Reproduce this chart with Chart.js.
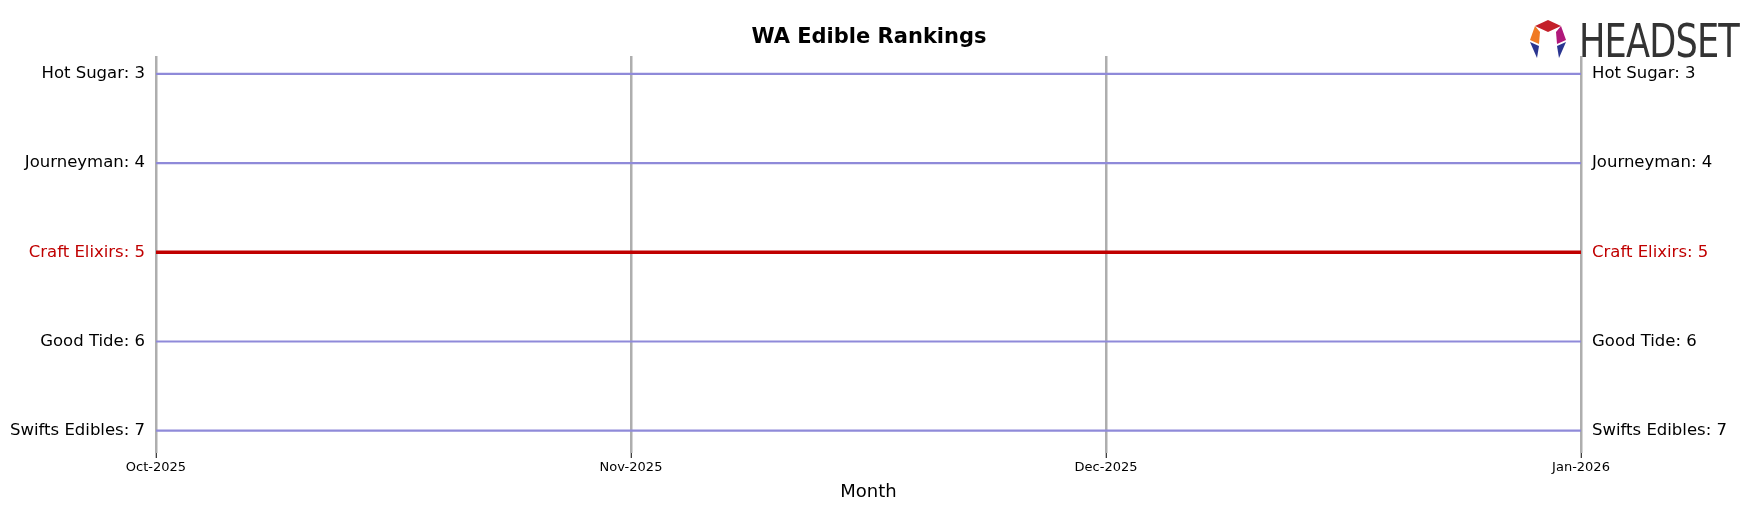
<!DOCTYPE html>
<html><head><meta charset="utf-8">
<script src="https://cdn.jsdelivr.net/npm/chart.js@4/dist/chart.umd.min.js"></script>
<style>
body{margin:0;background:#fff;font-family:"DejaVu Sans",sans-serif}
#wrap{position:relative;width:1764px;height:507px}
#title{position:absolute;top:24px;left:0;width:1738px;text-align:center;font-weight:bold;font-size:21px;color:#000}
#logo{position:absolute;top:14px;left:1525px;display:flex;align-items:center}
#logo span{font-family:"DejaVu Sans Condensed","DejaVu Sans",sans-serif;font-size:46px;color:#333;letter-spacing:-1px;margin-left:8px;transform:scaleX(0.85);transform-origin:left}
</style></head>
<body><div id="wrap">
<canvas id="myChart1" width="1764" height="507"></canvas>
<div id="title">WA Edible Rankings</div>
<div id="logo"><svg width="46" height="46" viewBox="0 0 46 46">
<polygon points="23,2 36,8 23,14 10,8" fill="#c4202a"/>
<polygon points="36,8 41,22 32,26 31,14" fill="#b0187a"/>
<polygon points="10,8 15,14 14,26 5,22" fill="#f07a24"/>
<polygon points="5,24 14,28 12,40" fill="#2a3590"/>
<polygon points="41,24 32,28 34,40" fill="#2a3590"/>
</svg><span>HEADSET</span></div>
</div>
<script>
const hydroChart = document.getElementById("myChart1")

let months = ["Oct-2025", "Nov-2025", "Dec-2025", "Jan-2026"];
let brands = ["Hot Sugar", "Journeyman", "Craft Elixirs", "Good Tide", "Swifts Edibles"];
let ranks = [
  [3, 3, 3, 3],
  [4, 4, 4, 4],
  [5, 5, 5, 5],
  [6, 6, 6, 6],
  [7, 7, 7, 7]
];
let highlight = "Craft Elixirs";

function labelFor(v) {
  let i = ranks.findIndex(r => r[0] === v);
  return i >= 0 ? brands[i] + ": " + v : "";
}
function colorFor(v) {
  let i = ranks.findIndex(r => r[0] === v);
  return brands[i] === highlight ? "#c00000" : "#000";
}

const yTicks = {
  font: { size: 16.5, family: "DejaVu Sans" },
  autoSkip: false,
  callback: v => labelFor(v),
  color: ctx => colorFor(ctx.tick.value)
};

new Chart(hydroChart, {
  type: "line",
  data: {
    labels: months,
    datasets: brands.map((b, i) => ({
      label: b,
      data: ranks[i],
      borderColor: b === highlight ? "#c00000" : "#8f8ad9",
      borderWidth: b === highlight ? 3.5 : 2.2,
      pointRadius: 0,
      yAxisID: "y"
    }))
  },
  options: {
    responsive: false,
    animation: false,
    layout: { padding: { top: 56, left: 0, right: 0, bottom: 0 } },
    plugins: { legend: { display: false }, tooltip: { enabled: false } },
    scales: {
      x: {
        offset: false,
        grid: { color: "rgba(120,120,120,0.6)", lineWidth: 2.5, drawTicks: true, tickLength: 5, tickColor: "#000", tickWidth: 1 },
        border: { display: false },
        ticks: { font: { size: 13, family: "DejaVu Sans" }, color: "#000", maxRotation: 0, padding: 2 },
        title: { display: true, text: "Month", font: { size: 18, family: "DejaVu Sans" }, color: "#000", padding: { top: 2 } },
        afterFit: s => { s.height = 54; }
      },
      y: {
        reverse: true, min: 2.8, max: 7.25,
        afterBuildTicks: s => { s.ticks = [3,4,5,6,7].map(v => ({ value: v })); },
        grid: { display: false },
        border: { display: false },
        ticks: Object.assign({ padding: 3 }, yTicks),
        afterFit: s => { s.width = 156; }
      },
      y2: {
        position: "right", reverse: true, min: 2.8, max: 7.25,
        afterBuildTicks: s => { s.ticks = [3,4,5,6,7].map(v => ({ value: v })); },
        grid: { display: false },
        border: { display: false },
        ticks: Object.assign({ padding: 3 }, yTicks),
        afterFit: s => { s.width = 183; }
      }
    }
  }
});
</script>
</body></html>
